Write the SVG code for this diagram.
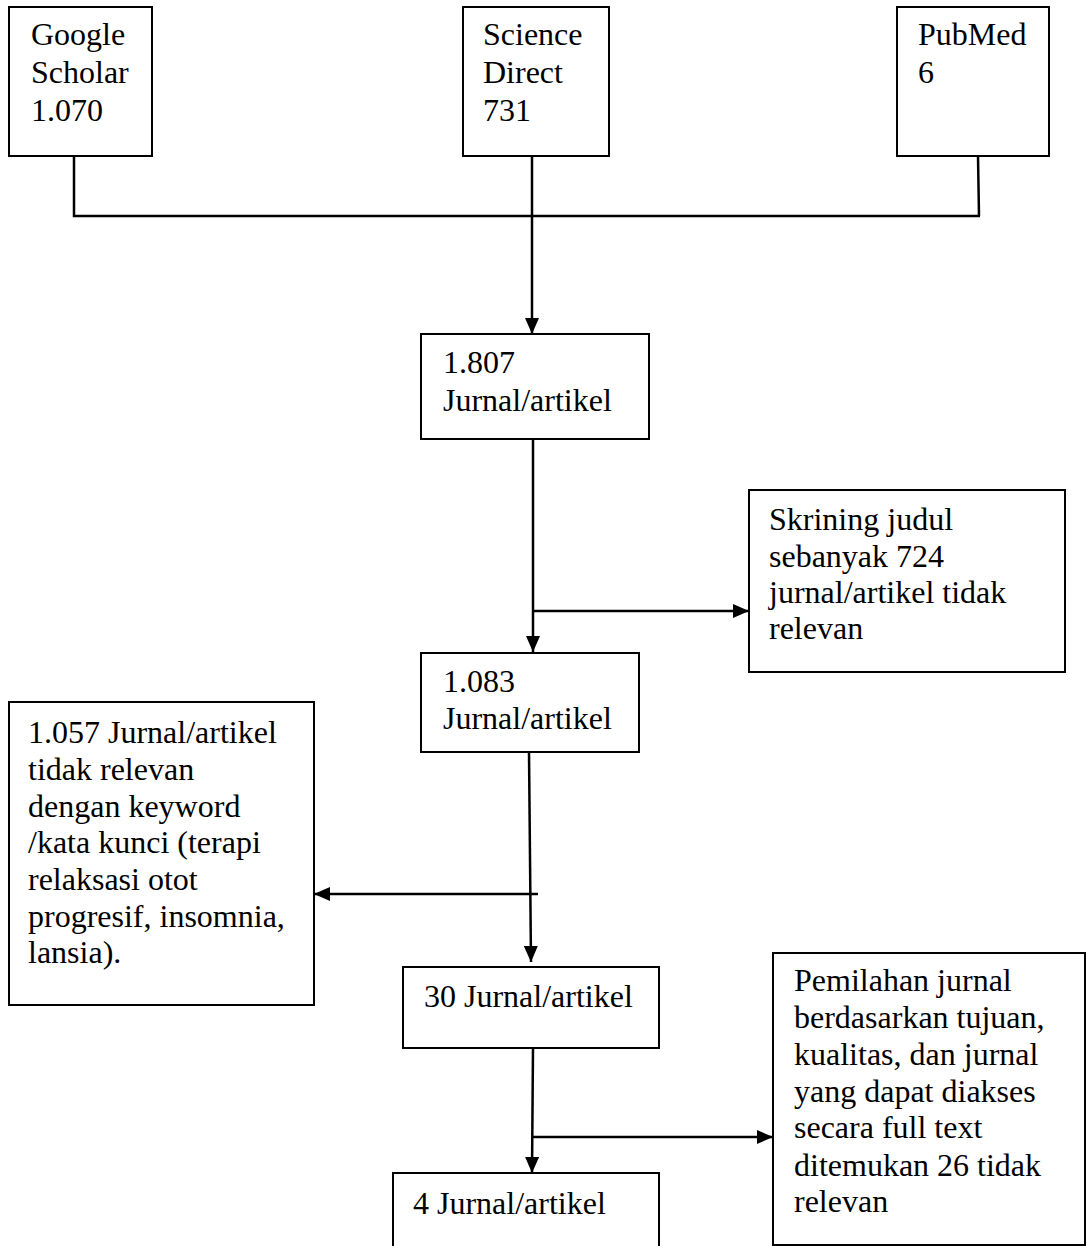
<svg xmlns="http://www.w3.org/2000/svg" width="1086" height="1246" viewBox="0 0 1086 1246">
  <style>
    .box { fill: #ffffff; stroke: #000000; stroke-width: 2; }
    .txt { font-family: "Liberation Serif", "Times New Roman", serif; font-size: 32px; fill: #000000; }
    .conn { fill: none; stroke: #000000; stroke-width: 2.5; }
  </style>
  <defs>
    <marker id="arrow" markerUnits="userSpaceOnUse" markerWidth="16" markerHeight="14" refX="16" refY="7" orient="auto">
      <path d="M0,0 L16,7 L0,14 Z" fill="#000000"/>
    </marker>
  </defs>
  <rect width="1086" height="1246" fill="#ffffff"/>

  <g id="connectors">
    <polyline class="conn" points="74,156 74,216 980,216"/>
    <line class="conn" x1="978" y1="156" x2="979" y2="216"/>
    <line class="conn" x1="532" y1="156" x2="532" y2="334" marker-end="url(#arrow)"/>
    <line class="conn" x1="533" y1="440" x2="533" y2="652" marker-end="url(#arrow)"/>
    <line class="conn" x1="533" y1="611" x2="749" y2="611" marker-end="url(#arrow)"/>
    <line class="conn" x1="529" y1="752" x2="531" y2="962" marker-end="url(#arrow)"/>
    <line class="conn" x1="538" y1="894" x2="314" y2="894" marker-end="url(#arrow)"/>
    <line class="conn" x1="533" y1="1048" x2="532" y2="1173" marker-end="url(#arrow)"/>
    <line class="conn" x1="532" y1="1137" x2="773" y2="1137" marker-end="url(#arrow)"/>
  </g>

  <g id="google-scholar">
    <rect class="box" x="9" y="7" width="143" height="149"/>
    <text class="txt" x="31" y="45">Google</text>
    <text class="txt" x="31" y="83">Scholar</text>
    <text class="txt" x="31" y="121">1.070</text>
  </g>
  <g id="science-direct">
    <rect class="box" x="463" y="7" width="146" height="149"/>
    <text class="txt" x="483" y="45">Science</text>
    <text class="txt" x="483" y="83">Direct</text>
    <text class="txt" x="483" y="121">731</text>
  </g>
  <g id="pubmed">
    <rect class="box" x="897" y="7" width="152" height="149"/>
    <text class="txt" x="918" y="45">PubMed</text>
    <text class="txt" x="918" y="83">6</text>
  </g>
  <g id="n1807">
    <rect class="box" x="421" y="334" width="228" height="105"/>
    <text class="txt" x="443" y="373">1.807</text>
    <text class="txt" x="443" y="411">Jurnal/artikel</text>
  </g>
  <g id="skrining">
    <rect class="box" x="749" y="490" width="316" height="182"/>
    <text class="txt" x="769" y="530">Skrining judul</text>
    <text class="txt" x="769" y="567">sebanyak 724</text>
    <text class="txt" x="769" y="603">jurnal/artikel tidak</text>
    <text class="txt" x="769" y="639">relevan</text>
  </g>
  <g id="n1083">
    <rect class="box" x="421" y="653" width="218" height="99"/>
    <text class="txt" x="443" y="692">1.083</text>
    <text class="txt" x="443" y="729">Jurnal/artikel</text>
  </g>
  <g id="n1057">
    <rect class="box" x="9" y="702" width="305" height="303"/>
    <text class="txt" x="28" y="743">1.057 Jurnal/artikel</text>
    <text class="txt" x="28" y="780">tidak relevan</text>
    <text class="txt" x="28" y="817">dengan keyword</text>
    <text class="txt" x="28" y="853">/kata kunci (terapi</text>
    <text class="txt" x="28" y="890">relaksasi otot</text>
    <text class="txt" x="28" y="927">progresif, insomnia,</text>
    <text class="txt" x="28" y="963">lansia).</text>
  </g>
  <g id="n30">
    <rect class="box" x="403" y="967" width="256" height="81"/>
    <text class="txt" x="424" y="1007">30 Jurnal/artikel</text>
  </g>
  <g id="pemilahan">
    <rect class="box" x="773" y="953" width="312" height="292"/>
    <text class="txt" x="794" y="991">Pemilahan jurnal</text>
    <text class="txt" x="794" y="1028">berdasarkan tujuan,</text>
    <text class="txt" x="794" y="1065">kualitas, dan jurnal</text>
    <text class="txt" x="794" y="1102">yang dapat diakses</text>
    <text class="txt" x="794" y="1138">secara full text</text>
    <text class="txt" x="794" y="1176">ditemukan 26 tidak</text>
    <text class="txt" x="794" y="1212">relevan</text>
  </g>
  <g id="n4">
    <rect class="box" x="393" y="1173" width="266" height="90"/>
    <text class="txt" x="413" y="1214">4 Jurnal/artikel</text>
  </g>
</svg>
